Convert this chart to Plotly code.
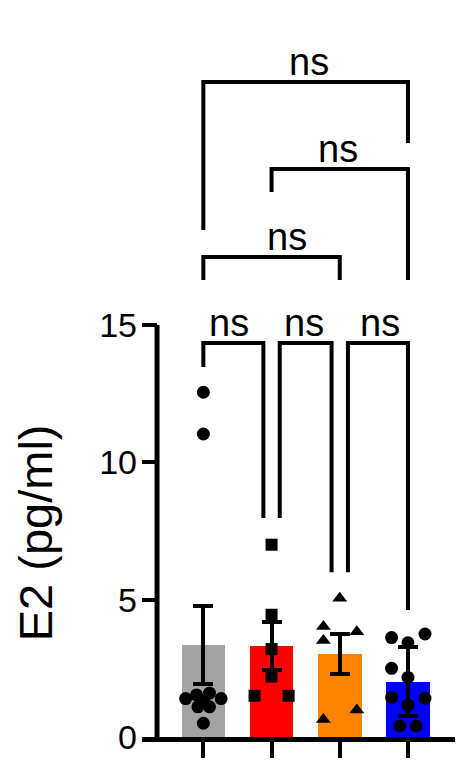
import plotly.graph_objects as go

# Group data
groups = ["G1", "G2", "G3", "G4"]
bar_colors = ["#A3A3A3", "#FF0000", "#FF8500", "#0000FF"]
means = [3.35, 3.31, 3.01, 2.02]
sds = [1.41, 0.86, 0.73, 1.26]

gray_vals = [12.55, 11.03, 1.6, 1.53, 1.4, 1.4, 1.3, 1.1, 1.1, 0.5]
red_vals = [7.0, 4.45, 3.2, 2.2, 1.5, 1.5]
orange_vals = [5.05, 4.02, 3.83, 3.51, 0.98, 0.64]
blue_vals = [3.75, 3.62, 3.43, 2.5, 2.17, 1.44, 1.41, 1.16, 0.4, 0.4]

# horizontal scatter of the points (category units)
gray_dx = [0, 0, 0.09, -0.1, -0.26, 0.26, 0, -0.08, 0.09, 0]
red_dx = [0, 0, 0, 0, -0.25, 0.25]
orange_dx = [0, -0.24, 0.25, -0.24, 0.25, -0.24]
blue_dx = [0.25, -0.24, 0, -0.24, 0, -0.24, 0.25, 0, -0.12, 0.12]

point_symbols = ["circle", "square", "triangle-up", "circle"]
point_sizes = [13, 12, 13, 13]

# significance brackets: left x, right x, bar height, leg ends
br_left = [0, 1, 0, 0, 1.12, 2.12]
br_right = [3, 3, 2, 0.88, 1.88, 3]
br_y = [23.84, 20.68, 17.47, 14.34, 14.34, 14.34]
br_left_end = [18.46, 19.84, 16.64, 13.47, 7.97, 6.0]
br_right_end = [21.62, 16.64, 16.64, 7.97, 6.0, 4.62]
br_labels = ["ns", "ns", "ns", "ns", "ns", "ns"]
label_dx = [3, -2, 15, -4, -2, 2]

y_ticks = [0, 5, 10, 15]

FONT = "Liberation Sans, Arial, Helvetica, sans-serif"

fig = go.Figure()

fig.add_trace(go.Bar(
    x=list(range(len(groups))),
    y=means,
    width=0.64,
    marker=dict(color=bar_colors, line=dict(width=0)),
    error_y=dict(type="data", array=sds, symmetric=True,
                 color="black", thickness=4, width=10),
    showlegend=False,
))

all_vals = [gray_vals, red_vals, orange_vals, blue_vals]
all_dx = [gray_dx, red_dx, orange_dx, blue_dx]
for i, (vals, dx) in enumerate(zip(all_vals, all_dx)):
    fig.add_trace(go.Scatter(
        x=[i + d for d in dx],
        y=vals,
        mode="markers",
        marker=dict(symbol=point_symbols[i], size=point_sizes[i], color="black"),
        showlegend=False,
        cliponaxis=False,
    ))

shapes = []
annotations = []
for xl, xr, yb, yle, yre, lab, sh in zip(br_left, br_right, br_y, br_left_end,
                                          br_right_end, br_labels, label_dx):
    shapes.append(dict(
        type="path", xref="x", yref="y",
        path=f"M {xl},{yle} L {xl},{yb} L {xr},{yb} L {xr},{yre}",
        line=dict(color="black", width=4),
    ))
    annotations.append(dict(
        x=(xl + xr) / 2, y=yb, xref="x", yref="y",
        text=lab, showarrow=False, xshift=sh, yshift=-3,
        xanchor="center", yanchor="bottom",
        font=dict(family=FONT, size=38, color="black"),
    ))

# y axis line only from 0 to 15
shapes.append(dict(
    type="line", xref="paper", yref="y",
    x0=0.048, x1=0.048, y0=0, y1=15,
    line=dict(color="black", width=5),
))

annotations.append(dict(
    x=-0.342, y=7.45, xref="paper", yref="y",
    text="E2 (pg/ml)", textangle=-90, showarrow=False,
    xanchor="center", yanchor="middle", borderpad=0,
    font=dict(family=FONT, size=47, color="black"),
))

# page body adds an 8px offset, so margins are shifted to compensate
fig.update_layout(
    width=470, height=782,
    margin=dict(l=134, r=23, t=12, b=53),
    plot_bgcolor="white", paper_bgcolor="white",
    shapes=shapes, annotations=annotations,
    bargap=0,
)

fig.update_xaxes(
    range=[-0.9, 3.69],
    tickvals=list(range(len(groups))),
    showticklabels=False,
    ticks="outside", ticklen=16, tickwidth=4, tickcolor="black",
    showline=True, linewidth=5, linecolor="black",
    showgrid=False, zeroline=False,
)

fig.update_yaxes(
    range=[0, 26.1],
    tickvals=y_ticks,
    ticks="inside", ticklen=15, tickwidth=4, tickcolor="black",
    tickfont=dict(family=FONT, size=34, color="black"),
    ticklabelstandoff=4,
    showline=False, showgrid=False, zeroline=False,
)

fig.write_html("out.html")
